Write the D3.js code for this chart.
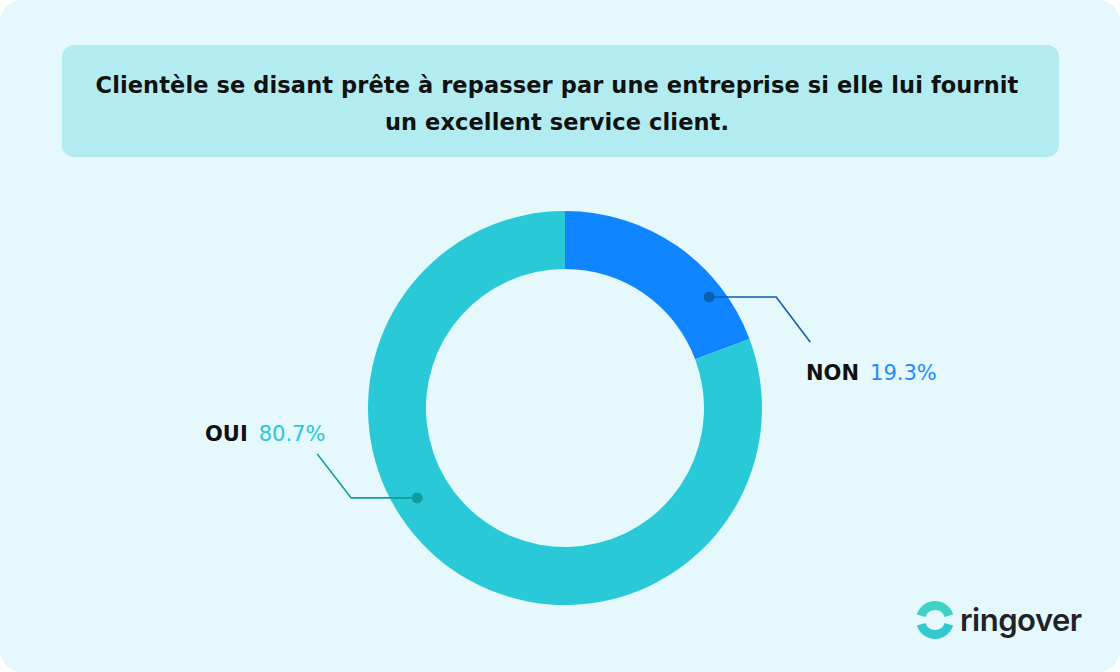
<!DOCTYPE html>
<html>
<head>
<meta charset="utf-8">
<script src="https://cdn.jsdelivr.net/npm/d3@7"></script>
<style>
    html, body { margin: 0; padding: 0; background: #ffffff; }
    svg { display: block; }
</style>
</head>
<body>
<script>
// data
var categories = ["NON", "OUI"];
var values = [19.3, 80.7];
var valueLabels = ["19.3%", "80.7%"];
var colors = ["#0f86ff", "#29c9d8"];
var pctColors = ["#1d8cff", "#2ac8d8"];
var lineColors = ["#0b5fb3", "#0e9c9f"];
var titleLines = [
    "Clientèle se disant prête à repasser par une entreprise si elle lui fournit",
    "un excellent service client."
];

var width = 1120, height = 672;
var cx = 565, cy = 408, outerR = 197, innerR = 139;

var svg = d3.select("body").append("svg")
    .attr("width", width)
    .attr("height", height);

// background card
svg.append("rect")
    .attr("x", 0).attr("y", 0)
    .attr("width", width).attr("height", height)
    .attr("rx", 22)
    .style("fill", "#e5f8fb");

// title box
svg.append("rect")
    .attr("x", 62).attr("y", 45)
    .attr("width", 997).attr("height", 112)
    .attr("rx", 12)
    .style("fill", "#b2ebf0");

svg.selectAll(".title")
    .data(titleLines)
    .enter().append("text")
    .attr("class", "title")
    .attr("x", 557)
    .attr("y", function(d, i){ return 93 + i * 37; })
    .attr("text-anchor", "middle")
    .style("font-family", "'DejaVu Sans', sans-serif")
    .style("font-weight", "700")
    .style("font-size", "22.5px")
    .style("letter-spacing", "0.1px")
    .style("fill", "#111111")
    .text(function(d){ return d; });

var pie = d3.pie().sort(null).value(function(d){ return d; });
var arc = d3.arc().innerRadius(innerR).outerRadius(outerR);
var arcs = pie(values);

var g = svg.append("g")
    .attr("transform", "translate(" + cx + "," + cy + ")");

g.selectAll("path.slice")
    .data(arcs)
    .enter().append("path")
    .attr("class", "slice")
    .attr("d", arc)
    .style("fill", function(d, i){ return colors[i]; });

// label placement: dot angle / radius, elbow and label positions
var dotAngle = [52.4, 238.7];
var dotRadius = [182, 173];
var elbowDx = [67, -66];
var tipOffset = [[34, 45], [-34, -44]];
var labelPos = [[806, 380], [205, 441]];

function polar(angleDeg, r){
    var a = angleDeg * Math.PI / 180;
    return [cx + r * Math.sin(a), cy - r * Math.cos(a)];
}

categories.forEach(function(cat, i){
    var dot = polar(dotAngle[i], dotRadius[i]);
    var elbow = [dot[0] + elbowDx[i], dot[1]];
    var tip = [elbow[0] + tipOffset[i][0], elbow[1] + tipOffset[i][1]];

    svg.append("path")
        .attr("d", d3.line()([dot, elbow, tip]))
        .style("fill", "none")
        .style("stroke", lineColors[i])
        .style("stroke-width", 1.6);

    svg.append("circle")
        .attr("cx", dot[0]).attr("cy", dot[1])
        .attr("r", 5.5)
        .style("fill", lineColors[i]);

    var t = svg.append("text")
        .attr("x", labelPos[i][0])
        .attr("y", labelPos[i][1])
        .style("font-family", "'DejaVu Sans', sans-serif")
        .style("font-size", "21px");
    t.append("tspan")
        .style("font-weight", "700")
        .style("fill", "#111111")
        .text(cat);
    t.append("tspan")
        .attr("dx", 11)
        .style("font-weight", "400")
        .style("fill", pctColors[i])
        .text(valueLabels[i]);
});

// ringover logo
var logo = svg.append("g").attr("transform", "translate(935,620)");
var ring = d3.arc().innerRadius(10).outerRadius(19);
logo.append("path")
    .attr("d", ring({startAngle: -Math.PI / 2 + 0.3, endAngle: Math.PI / 2 - 0.3}))
    .style("fill", "#3fd3c6");
logo.append("path")
    .attr("d", ring({startAngle: Math.PI / 2 + 0.3, endAngle: 3 * Math.PI / 2 - 0.3}))
    .style("fill", "#34c8cf");

svg.append("text")
    .attr("x", 960).attr("y", 631)
    .style("font-family", "Inter, sans-serif")
    .style("font-weight", "600")
    .style("font-size", "31px")
    .style("letter-spacing", "-0.5px")
    .style("fill", "#1f2328")
    .text("ringover");
</script>
</body>
</html>
